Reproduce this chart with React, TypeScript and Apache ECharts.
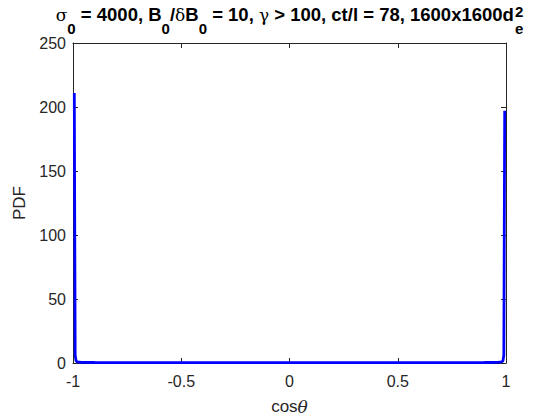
import React, { useEffect, useRef } from "react";
import * as echarts from "echarts";

const cosTheta = [
  -0.994, -0.99, -0.986, -0.98, -0.96, -0.9, -0.8, -0.6, -0.4, -0.2, 0,
  0.2, 0.4, 0.6, 0.8, 0.9, 0.96, 0.98, 0.986, 0.99, 0.994,
];
const pdf = [
  211, 6, 1.8, 0.8, 0.5, 0.4, 0.35, 0.3, 0.3, 0.28, 0.28,
  0.28, 0.3, 0.3, 0.34, 0.4, 0.5, 0.8, 1.8, 6, 197,
];
const xTicks = { min: -1, max: 1, interval: 0.5 };
const yTicks = { min: 0, max: 250, interval: 50 };

type Piece = { t: string; k: "n" | "g" | "sub" | "supsub"; t2?: string };
const titlePieces: Piece[] = [
  { t: "σ", k: "g" },
  { t: "0", k: "sub" },
  { t: " = 4000, B", k: "n" },
  { t: "0", k: "sub" },
  { t: "/", k: "n" },
  { t: "δ", k: "g" },
  { t: "B", k: "n" },
  { t: "0", k: "sub" },
  { t: " = 10, ", k: "n" },
  { t: "γ", k: "g" },
  { t: " > 100, ct/l = 78, 1600x1600d", k: "n" },
  { t: "2", k: "supsub", t2: "e" },
];

const INK = "#262626";
const SANS = "'Liberation Sans', Arial, sans-serif";
const SERIF = "'DejaVu Serif', 'Liberation Serif', serif";

function buildTitle(): any[] {
  const cv = document.createElement("canvas");
  const ctx = cv.getContext("2d")!;
  const mainFs = 18.5;
  const subFs = 15;
  const greekFs = 17;
  const fonts: Record<string, string> = {
    n: `bold ${mainFs}px ${SANS}`,
    g: `${greekFs}px ${SERIF}`,
    sub: `bold ${subFs}px ${SANS}`,
  };
  const baseY = 21;
  const subY = 34;
  const supY = 17;
  const mid = (b: number, fs: number) => b - 0.35 * fs;
  const items: { text: string; font: string; dx: number; y: number }[] = [];
  let x = 0;
  for (const p of titlePieces) {
    if (p.k === "n" || p.k === "g") {
      ctx.font = fonts[p.k];
      items.push({ text: p.t, font: fonts[p.k], dx: x, y: mid(baseY, p.k === "g" ? greekFs : mainFs) });
      x += ctx.measureText(p.t).width;
    } else if (p.k === "sub") {
      ctx.font = fonts.sub;
      items.push({ text: p.t, font: fonts.sub, dx: x, y: mid(subY, subFs) });
      x += ctx.measureText(p.t).width;
    } else {
      ctx.font = fonts.sub;
      const w1 = ctx.measureText(p.t).width;
      const w2 = ctx.measureText(p.t2 || "").width;
      items.push({ text: p.t, font: fonts.sub, dx: x + 1, y: mid(supY, subFs) });
      items.push({ text: p.t2 || "", font: fonts.sub, dx: x + 1, y: mid(subY, subFs) });
      x += Math.max(w1, w2) + 1;
    }
  }
  const start = 289.5 - x / 2;
  return items.map((it) => ({
    type: "text",
    x: start + it.dx,
    y: it.y,
    style: {
      text: it.text,
      fill: "#000",
      font: it.font,
      textAlign: "left",
      textVerticalAlign: "middle",
    },
  }));
}

export default function App() {
  const ref = useRef<HTMLDivElement>(null);
  useEffect(() => {
    if (!ref.current) return;
    const chart = echarts.init(ref.current, undefined, { renderer: "svg" });
    const axisLine = { show: true, onZero: false, lineStyle: { color: INK, width: 1 } };
    const tick = { show: true, inside: true, length: 5, lineStyle: { color: INK, width: 1 } };
    const label = { color: INK, fontSize: 16, fontFamily: SANS };
    chart.setOption({
      animation: false,
      backgroundColor: "#fff",
      grid: { left: 73, top: 43, width: 433, height: 321, containLabel: false },
      xAxis: [
        {
          type: "value",
          position: "bottom",
          ...xTicks,
          axisLine,
          axisTick: tick,
          splitLine: { show: false },
          axisLabel: { ...label, margin: 10 },
          name: "cos{t|θ}",
          nameLocation: "middle",
          nameGap: 35,
          nameTextStyle: {
            color: INK,
            fontSize: 17,
            fontFamily: SANS,
            rich: { t: { fontSize: 17, fontFamily: SERIF, fontStyle: "italic", color: INK } },
          },
        },
        {
          type: "value",
          position: "top",
          ...xTicks,
          axisLine,
          axisTick: tick,
          splitLine: { show: false },
          axisLabel: { show: false },
        },
      ],
      yAxis: [
        {
          type: "value",
          position: "left",
          ...yTicks,
          axisLine,
          axisTick: tick,
          splitLine: { show: false },
          axisLabel: { ...label, margin: 7 },
          name: "PDF",
          nameLocation: "middle",
          nameGap: 37,
          nameRotate: 90,
          nameTextStyle: { color: INK, fontSize: 17, fontFamily: SANS },
        },
        {
          type: "value",
          position: "right",
          ...yTicks,
          axisLine,
          axisTick: tick,
          splitLine: { show: false },
          axisLabel: { show: false },
        },
      ],
      series: [
        {
          type: "line",
          xAxisIndex: 0,
          yAxisIndex: 0,
          data: cosTheta.map((c, i) => [c, pdf[i]]),
          showSymbol: false,
          symbol: "none",
          clip: false,
          lineStyle: { color: "#0000ff", width: 2.8 },
        },
      ],
      graphic: buildTitle(),
    });
    return () => chart.dispose();
  }, []);
  return (
    <div
      ref={ref}
      style={{ position: "absolute", left: 0, top: 0, width: 560, height: 420, background: "#fff" }}
    />
  );
}
